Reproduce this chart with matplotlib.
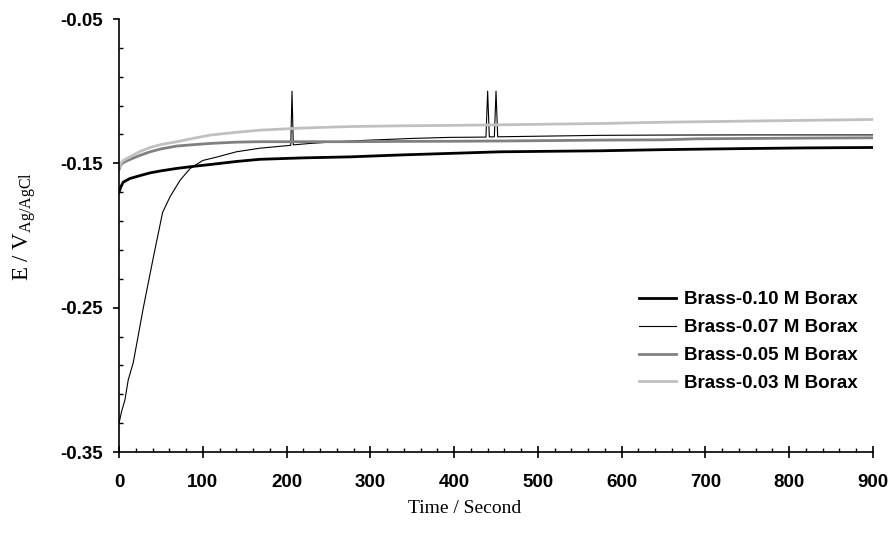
import matplotlib
matplotlib.use("Agg")
import numpy as np
import matplotlib.pyplot as plt
from matplotlib.ticker import MultipleLocator, FormatStrFormatter

# Open-circuit potential vs time
t_010 = [0, 2, 5, 13, 25, 37, 50, 69, 90, 109, 140, 168, 220, 276, 335, 395,
         455, 520, 574, 650, 741, 820, 900]
e_010 = [-0.1700, -0.1665, -0.1630, -0.1605, -0.1585, -0.1566, -0.1552, -0.1535,
         -0.1520, -0.1508, -0.1487, -0.1472, -0.1462, -0.1455, -0.1442, -0.1431,
         -0.1420, -0.1416, -0.1413, -0.1405, -0.1398, -0.1393, -0.1390]

t_007 = [0, 3, 7, 11, 17, 29, 41, 52, 61, 73, 85, 100, 117, 140, 168, 205,
         206.5, 208, 228, 260, 300, 351, 395, 438, 440, 442, 448, 450, 452,
         500, 574, 650, 741, 820, 900]
e_007 = [-0.330, -0.322, -0.314, -0.300, -0.288, -0.250, -0.215, -0.184, -0.173,
         -0.1616, -0.1535, -0.1480, -0.1456, -0.1420, -0.1395, -0.1375,
         -0.1000, -0.1372, -0.1362, -0.1350, -0.1339, -0.1327, -0.1320, -0.1318,
         -0.1000, -0.1317, -0.1316, -0.1000, -0.1316,
         -0.1312, -0.1306, -0.1304, -0.1303, -0.1303, -0.1303]

t_005 = [0, 2, 5, 13, 25, 37, 50, 69, 90, 109, 140, 168, 220, 276, 335, 395,
         455, 520, 574, 650, 690, 741, 820, 900]
e_005 = [-0.1545, -0.1510, -0.1495, -0.1473, -0.1445, -0.1420, -0.1400, -0.1380,
         -0.1370, -0.1362, -0.1353, -0.1350, -0.1350, -0.1350, -0.1348, -0.1347,
         -0.1345, -0.1342, -0.1339, -0.1337, -0.1330, -0.1328, -0.1325, -0.1323]

t_003 = [0, 2, 5, 13, 25, 37, 50, 69, 90, 109, 140, 168, 220, 276, 335, 395,
         455, 520, 574, 650, 741, 820, 900]
e_003 = [-0.1530, -0.1500, -0.1480, -0.1455, -0.1418, -0.1390, -0.1370, -0.1350,
         -0.1325, -0.1304, -0.1285, -0.1270, -0.1255, -0.1245, -0.1240, -0.1237,
         -0.1233, -0.1228, -0.1224, -0.1215, -0.1208, -0.1202, -0.1196]

labels = ["Brass-0.10 M Borax", "Brass-0.07 M Borax",
          "Brass-0.05 M Borax", "Brass-0.03 M Borax"]
y_major = [-0.35, -0.25, -0.15, -0.05]

plt.rcParams['mathtext.default'] = 'regular'

fig = plt.figure(figsize=(8.89, 5.39), dpi=100)
ax = fig.add_axes([0.1339, 0.1614, 0.982 - 0.1339, 0.9647 - 0.1614])

ax.plot(t_010, e_010, color='black', lw=2.0, label=labels[0])
ax.plot(t_007, e_007, color='black', lw=0.8, label=labels[1])
ax.plot(t_005, e_005, color='#808080', lw=2.0, label=labels[2])
ax.plot(t_003, e_003, color='#c0c0c0', lw=2.0, label=labels[3])

ax.set_xlim(0, 900)
ax.set_ylim(-0.35, -0.05)
ax.xaxis.set_major_locator(MultipleLocator(100))
ax.xaxis.set_minor_locator(MultipleLocator(20))
ax.set_yticks(y_major)
ax.set_yticks(np.arange(-0.35, -0.049, 0.02), minor=True)
ax.yaxis.set_major_formatter(FormatStrFormatter('%.2f'))

for side in ('top', 'right'):
    ax.spines[side].set_visible(False)
for side in ('left', 'bottom'):
    ax.spines[side].set_linewidth(1.2)

ax.tick_params(axis='x', which='major', direction='inout', length=8, width=1.2, pad=12)
ax.tick_params(axis='x', which='minor', direction='in', length=3, width=1.0)
ax.tick_params(axis='y', which='major', direction='out', length=4.5, width=1.2, pad=7)
ax.tick_params(axis='y', which='minor', direction='in', length=3, width=1.0)

for lab in ax.get_xticklabels() + ax.get_yticklabels():
    lab.set_fontfamily('Liberation Sans')
    lab.set_fontweight('bold')
    lab.set_fontsize(13.5)

ax.set_xlabel('Time / Second', family='Liberation Serif', fontsize=14)
ax.set_ylabel(r'E / V$_{Ag/AgCl}$', family='Liberation Serif', fontsize=16.5)
ax.xaxis.set_label_coords(0.459, -0.11)
ax.yaxis.set_label_coords(-0.108, 0.52)

leg = ax.legend(loc='upper left', bbox_to_anchor=(0.667, 0.41), frameon=False,
                handlelength=2.0, handletextpad=0.4, labelspacing=0.57,
                prop={'family': 'Liberation Sans', 'weight': 'bold', 'size': 13.5})

fig.savefig('out.png', dpi=100)
